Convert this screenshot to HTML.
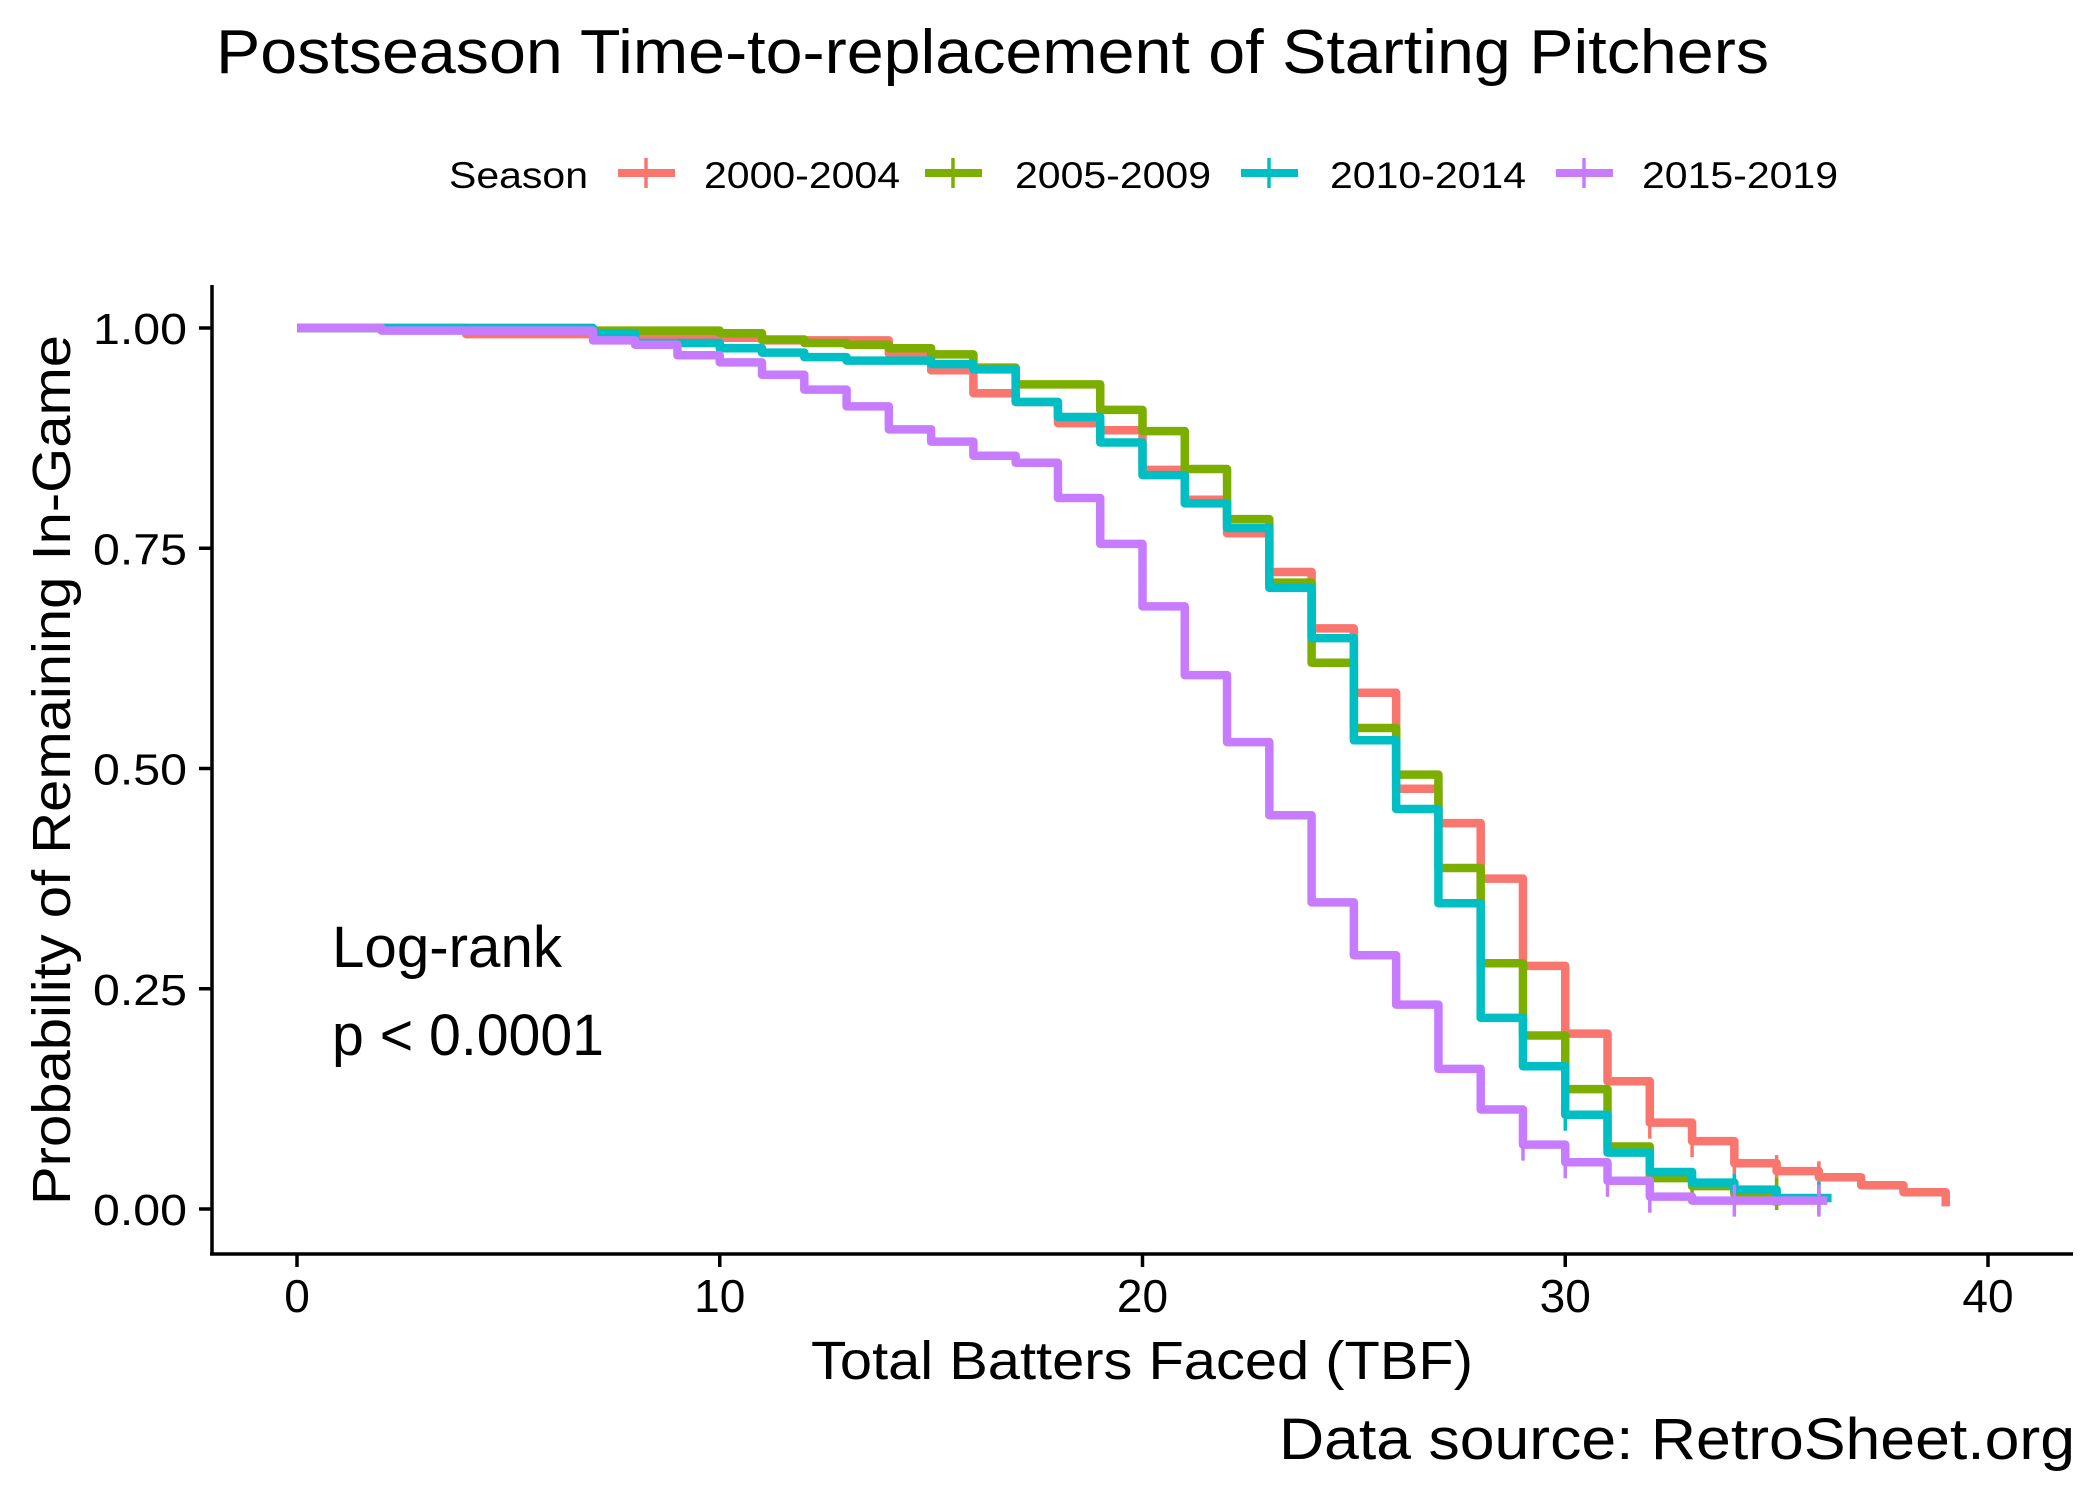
<!DOCTYPE html>
<html><head><meta charset="utf-8"><style>
html,body{margin:0;padding:0;background:#fff;}
svg{display:block;font-family:"Liberation Sans",Arial,sans-serif;}
</style></head><body>
<svg id="chart" width="2100" height="1500" viewBox="0 0 2100 1500" xmlns="http://www.w3.org/2000/svg">
<rect width="2100" height="1500" fill="#fff"/>
<text x="216" y="73" font-size="62" textLength="1553" lengthAdjust="spacingAndGlyphs">Postseason Time-to-replacement of Starting Pitchers</text>
<g id="legend">
<text x="449" y="188" font-size="37" textLength="139" lengthAdjust="spacingAndGlyphs">Season</text>
</g>
<g id="plot"></g>
<line x1="212" y1="285" x2="212" y2="1254" stroke="#000" stroke-width="3.5"/>
<line x1="210" y1="1254" x2="2073" y2="1254" stroke="#000" stroke-width="3.5"/>
<g id="yticks"></g>
<g id="xticks"></g>
<text x="1142" y="1379" font-size="54" text-anchor="middle" textLength="662" lengthAdjust="spacingAndGlyphs">Total Batters Faced (TBF)</text>
<text transform="translate(70,770) rotate(-90)" font-size="54" text-anchor="middle" textLength="870" lengthAdjust="spacingAndGlyphs">Probability of Remaining In-Game</text>
<text x="332" y="967" font-size="58" textLength="230" lengthAdjust="spacingAndGlyphs">Log-rank</text>
<text x="332" y="1055" font-size="58" textLength="272" lengthAdjust="spacingAndGlyphs">p &lt; 0.0001</text>
<text x="2075" y="1459" font-size="58" text-anchor="end" textLength="796" lengthAdjust="spacingAndGlyphs">Data source: RetroSheet.org</text>
</svg>
<script>
const seriesNames = ["2000-2004","2005-2009","2010-2014","2015-2019"];
const seriesColors = ["#F8766D","#7CAE00","#00BFC4","#C77CFF"];
const surv2000 = [1,1,1,1,.993,.993,.993,.991,.991,.989,.989,.986,.986,.986,.971,.952,.926,.916,.892,.884,.839,.805,.767,.723,.659,.586,.477,.438,.375,.276,.199,.145,.098,.077,.052,.043,.036,.027,.019];
const surv2005 = [1,1,1,1,1,1,1,.997,.997,.997,.994,.987,.983,.981,.977,.970,.955,.936,.936,.907,.883,.840,.783,.711,.620,.546,.493,.387,.279,.197,.136,.071,.035,.026,.017];
const surv2010 = [1,1,1,1,1,1,1,.994,.983,.983,.977,.972,.967,.963,.963,.959,.953,.916,.899,.870,.833,.801,.773,.705,.648,.532,.454,.347,.217,.162,.107,.064,.042,.030,.022,.0125];
const surv2015 = [1,1,.997,.997,.997,.997,.997,.986,.981,.969,.961,.947,.930,.911,.885,.871,.855,.847,.807,.755,.684,.606,.530,.447,.348,.288,.232,.159,.113,.073,.053,.032,.014,.0095,.0095,.0095];
const endTimes = [39,35,36.3,36.2];
const finalValues = [.003,.004,null,null];
const censor2000 = [32,33,34,35,36];
const censor2005 = [33,35];
const censor2010 = [30,34,36];
const censor2015 = [29,30,31,32,34,36];
const xTicks = [0,10,20,30,40];
const yTicks = [0,0.25,0.5,0.75,1];
const yTickLabels = ["0.00","0.25","0.50","0.75","1.00"];

const allSurv=[surv2000,surv2005,surv2010,surv2015];
const allCensor=[censor2000,censor2005,censor2010,censor2015];
const NS="http://www.w3.org/2000/svg";
const X0=297, XS=(1988-297)/40, Y0=1209, YS=881;
function xs(t){return X0+t*XS;}
function ys(v){return Y0-v*YS;}
function mk(tag,attrs,parent){const e=document.createElementNS(NS,tag);for(const k in attrs)e.setAttribute(k,attrs[k]);parent.appendChild(e);return e;}
function valAt(s,t){const i=Math.min(Math.floor(t),s.length-1);return s[Math.max(i,0)];}

const plot=document.getElementById('plot');
allSurv.forEach((s,k)=>{
  let d='M'+xs(0)+','+ys(s[0]);
  for(let i=0;i<s.length;i++){
    const tEnd=(i===s.length-1)?endTimes[k]:i+1;
    d+=' H'+xs(tEnd);
    if(i<s.length-1) d+=' V'+ys(s[i+1]);
  }
  if(finalValues[k]!==null) d+=' V'+ys(finalValues[k]);
  const p=mk('path',{d:d,fill:'none',stroke:seriesColors[k],'stroke-width':8.5,'stroke-linejoin':'round'},plot);
  
  
  allCensor[k].forEach(t=>{
    const v=valAt(s,t);
    const c=mk('line',{x1:xs(t),x2:xs(t),y1:ys(v)-16,y2:ys(v)+16,stroke:seriesColors[k],'stroke-width':3.5},plot);
    
    
  });
});

const yt=document.getElementById('yticks');
yTicks.forEach((v,i)=>{
  const l=mk('line',{x1:199,x2:212,y1:ys(v),y2:ys(v),stroke:'#000','stroke-width':3.5},yt);
  
  
  const t=mk('text',{x:187,y:ys(v)+16,'font-size':44,'text-anchor':'end',textLength:94,lengthAdjust:'spacingAndGlyphs'},yt);
  t.textContent=yTickLabels[i];
  
  
});
const xt=document.getElementById('xticks');
xTicks.forEach(v=>{
  const l=mk('line',{x1:xs(v),x2:xs(v),y1:1254,y2:1267,stroke:'#000','stroke-width':3.5},xt);
  
  
  const t=mk('text',{x:xs(v),y:1312,'font-size':46,'text-anchor':'middle'},xt);
  t.textContent=String(v);
  
  
});

const lg=document.getElementById('legend');
const keyX=[618,925,1241,1556], labX=[704,1015,1330,1642];
seriesNames.forEach((n,k)=>{
  const g=mk('g',{},lg);
  
  
  mk('line',{x1:keyX[k],x2:keyX[k]+57,y1:173,y2:173,stroke:seriesColors[k],'stroke-width':8},g);
  mk('line',{x1:keyX[k]+28,x2:keyX[k]+28,y1:158,y2:188,stroke:seriesColors[k],'stroke-width':3.5},g);
  const t=mk('text',{x:labX[k],y:188,'font-size':37,textLength:196,lengthAdjust:'spacingAndGlyphs'},g);
  t.textContent=n;
});
</script>
</body></html>
